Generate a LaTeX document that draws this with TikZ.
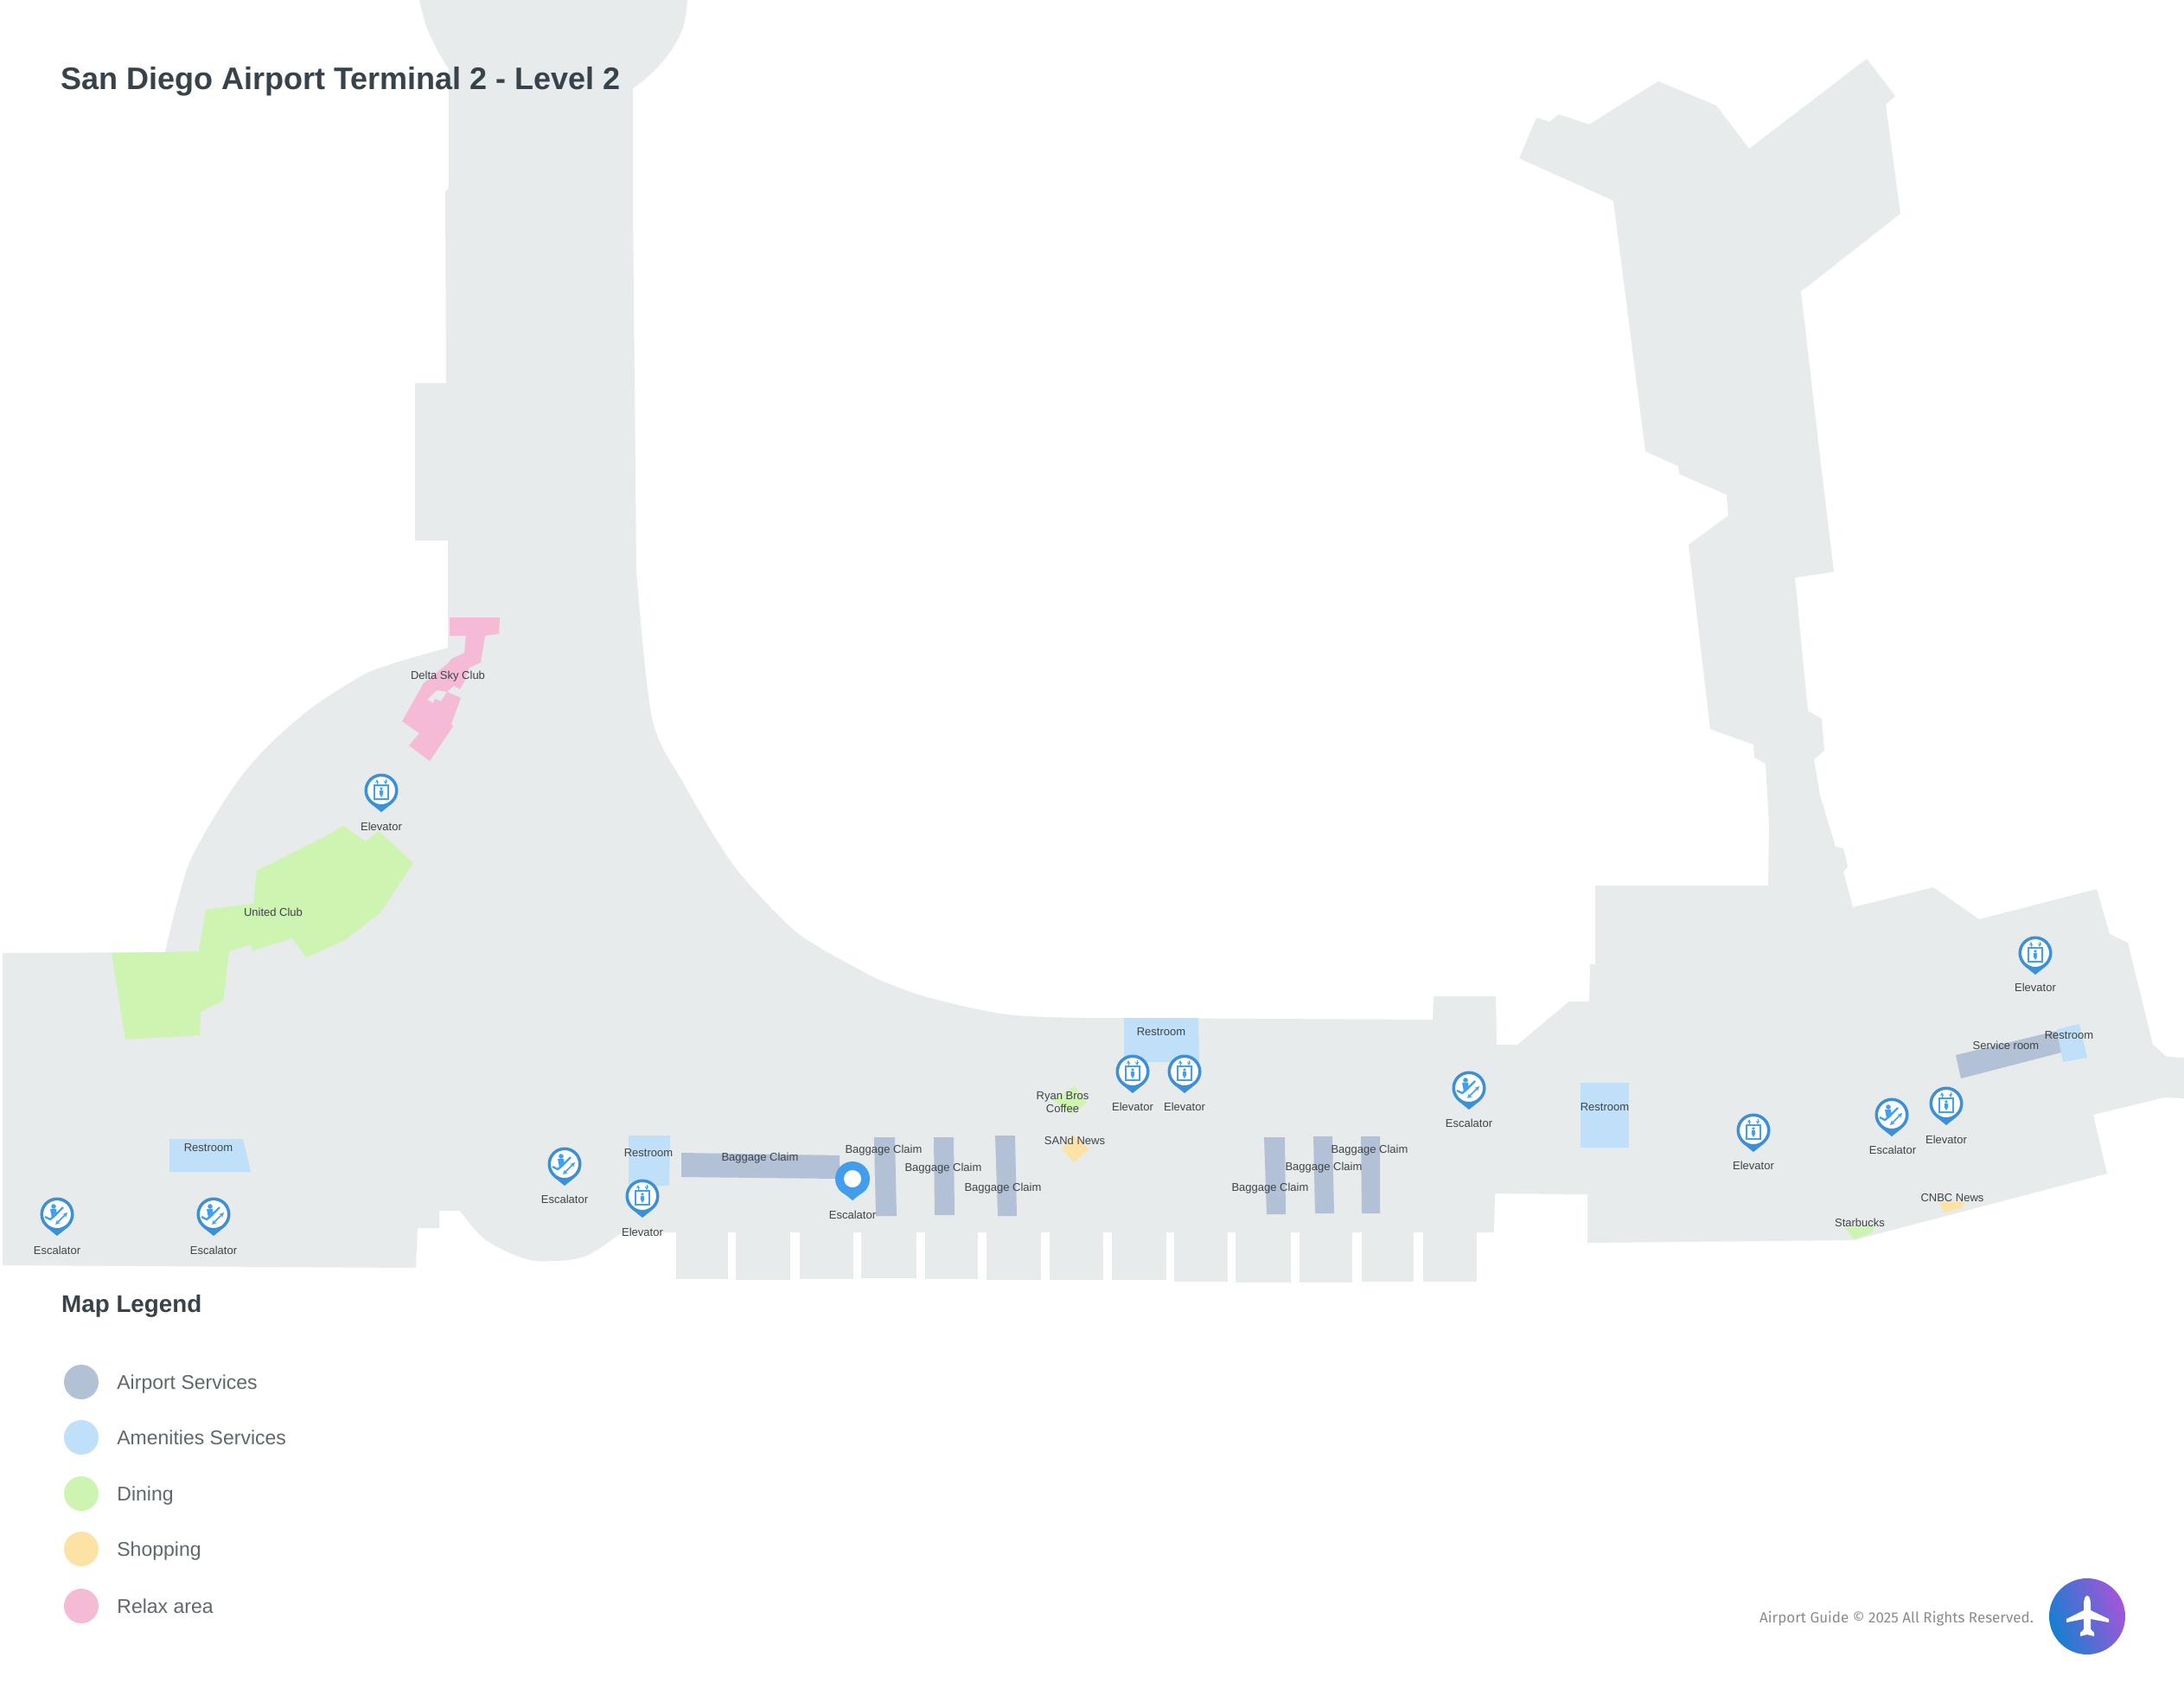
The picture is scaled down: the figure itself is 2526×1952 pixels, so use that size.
\documentclass[tikz,border=0pt]{standalone}
\usepackage{fontspec}
\setmainfont{Liberation Sans}
\newfontfamily\footfont{Fira Sans}
\usetikzlibrary{positioning}
\definecolor{floorgrey}{HTML}{E7EBEB}
\definecolor{servicecol}{HTML}{B3C1D6}
\definecolor{amenitycol}{HTML}{BFE0F8}
\definecolor{diningcol}{HTML}{CDF4B0}
\definecolor{shopcol}{HTML}{FDE2A6}
\definecolor{relaxcol}{HTML}{F4BAD6}
\definecolor{pinblue}{HTML}{3D8FD6}
\definecolor{iconblue}{HTML}{42A0EE}
\definecolor{labelgrey}{HTML}{3E4447}
\definecolor{titlegrey}{HTML}{37424A}
\definecolor{legendgrey}{HTML}{5F686C}
\definecolor{logoblue}{HTML}{1580D0}
\definecolor{logopurple}{HTML}{A555D8}
\tikzset{
  maplabel/.style={text=labelgrey, inner sep=0pt, align=center, yshift=-1pt, font=\fontsize{13}{15}\selectfont},
  legenddot/.style={circle, inner sep=0pt, minimum size=40pt},
  legendtext/.style={text=legendgrey, inner sep=0pt, text height=17pt, text depth=0pt, font=\fontsize{23}{26}\selectfont},
  pinbase/.pic={
    \fill[pinblue] (-12.2,15.2) -- (0,25) -- (12.2,15.2) -- cycle;
    \draw[pinblue, line width=3.5pt, fill=white] (0,0) circle[radius=17.75pt];
  },
  elevatorpin/.pic={
    \pic {pinbase};
    \draw[iconblue, line width=1.4pt] (-8,-6) rectangle (8,10);
    \fill[iconblue] (0,-2) circle[radius=1.9pt];
    \fill[iconblue] (-2.2,0) rectangle (2.2,4) (-2.2,4) -- (2.2,4) -- (0,8) -- cycle;
    \draw[iconblue, line width=1pt, ->, >=stealth] (-5,-7) -- (-5,-13);
    \draw[iconblue, line width=1pt, ->, >=stealth] (5,-13) -- (5,-7);
  },
  escalatorpin/.pic={
    \pic {pinbase};
    \fill[iconblue] (-4,-9) circle[radius=2.8pt];
    \fill[iconblue] (-8,-6) -- (-1,-6) -- (0,1) -- (-6,4) -- cycle;
    \draw[iconblue, line width=2.4pt] (-14,3) -- (-8,6) -- (-3,2) -- (7,-8);
    \draw[iconblue, line width=1.5pt, <->, >=stealth] (-2,12) -- (12,-2);
  },
  activepin/.pic={
    \fill[iconblue!90!pinblue] (0,0) circle[radius=20pt];
    \fill[iconblue!90!pinblue] (-16,12) -- (0,25) -- (16,12) -- cycle;
    \fill[white] (0,0) circle[radius=10pt];
  }
}
\begin{document}
\begin{tikzpicture}[x=1pt, y=-1pt]
\useasboundingbox (0,0) rectangle (2526,1952);
\fill[white] (0,0) rectangle (2526,1952);
\fill[floorgrey] plot[smooth, tension=0.6] coordinates {(795,0) (790,32) (773,63) (750,88) (732,102)} -- (732,240) -- plot[smooth, tension=0.5] coordinates {(736,660) (754,830) (790,905) (848,1000) (912,1070) (950,1097) (992,1120) (1015,1132) (1072,1153) (1164,1173) (1256,1177)} -- (1657,1179) -- (1658,1152) -- (1730,1152) -- (1731,1208) -- (1755,1208) -- (1815,1158) -- (1838,1158) -- (1839,1115) -- (1845,1115) -- (1845,1024) -- (2045,1024) -- (2046,953) -- (2042,883) -- (2029,876) -- (2028,861) -- (1978,843) -- (1953,630) -- (1999,596) -- (1997,572) -- (1942,548) -- (1941,539) -- (1903,522) -- (1866,232) -- (1757,183) -- (1777,136) -- (1792,141) -- (1803,132) -- (1838,144) -- (1918,94) -- (1985,122) -- (2023,172) -- (2159,68) -- (2192,111) -- (2181,121) -- (2198,247) -- (2083,337) -- (2104,520) -- (2121,661) -- (2076,668) -- (2091,822) -- (2107,831) -- (2110,868) -- (2098,878) -- (2105,920) -- (2123,979) -- (2132,981) -- (2137,1002) -- (2132,1008) -- (2143,1049) -- (2236,1026) -- (2289,1063) -- (2425,1028) -- (2440,1080) -- (2461,1090) -- (2490,1208) -- (2506,1222) -- (2526,1223) -- (2526,1270) -- (2503,1269) -- (2421,1289) -- (2437,1357) -- (2144,1434) -- (1836,1437) -- (1836,1381) -- (1729,1380) -- (1728,1425) -- (782,1425) -- (720,1425) -- plot[smooth, tension=0.6] coordinates {(708,1433) (676,1453) (638,1458) (606,1455) (561,1433) (532,1400)} -- (508,1400) -- (508,1420) -- (483,1420) -- (481,1466) -- (3,1463) -- (3,1102) -- plot[smooth, tension=0.6] coordinates {(191,1101) (206,1040) (226,983) (282,894) (346,830) (412,785) (452,768) (518,749)} -- (518,625) -- (480,625) -- (480,443) -- (516,443) -- (515,222) -- (519,217) -- plot[smooth, tension=0.6] coordinates {(519,80) (507,60) (493,30) (485,0)} -- cycle;
\foreach \a/\b/\c in {782/842/1479, 851/914/1480, 925/987/1479, 996/1060/1478, 1070/1131/1479, 1141/1204/1480, 1214/1276/1480, 1286/1349/1480, 1358/1420/1482, 1429/1493/1483, 1503/1564/1483, 1575/1635/1482, 1646/1708/1482}
  \fill[floorgrey] (\a,1420) rectangle (\b,\c);

\fill[diningcol] (297,1007) -- (380,965) -- (397,955) -- (423,973) -- (438,961) -- (478,998) -- (440,1055) -- (399,1087) -- (354,1107) -- (338,1085) -- (292,1099) -- (290,1092) -- (265,1100) -- (258,1157) -- (232,1170) -- (231,1197) -- (145,1202) -- (129,1102) -- (230,1100) -- (238,1052) -- (293,1045) -- cycle;
\fill[relaxcol] (520,714) -- (578,714) -- (577,733) -- (561,735) -- (556,766) -- (543,772) -- (537,788) -- (532,797) -- (525,793) -- (517,800) -- (505,798) -- (494,809) -- (501,813) -- (503,808) -- (510,811) -- (517,800) -- (533,807) -- (522,837) -- (524,840) -- (497,880) -- (473,862) -- (485,848) -- (465,834) -- (490,790) -- (518,767) -- (522,762) -- (537,755) -- (539,735) -- (520,735) -- cycle;

\fill[amenitycol] (196,1317) -- (281,1317) -- (290,1355) -- (196,1355) -- cycle;
\fill[amenitycol] (727,1313) -- (775,1313) -- (774,1371) -- (727,1371) -- cycle;
\fill[amenitycol] (1300,1177) -- (1386,1177) -- (1387,1228) -- (1300,1228) -- cycle;
\fill[amenitycol] (1828,1252) -- (1884,1252) -- (1884,1327) -- (1828,1327) -- cycle;
\fill[servicecol] (788,1333) -- (971,1336) -- (971,1363) -- (788,1361) -- cycle;
\fill[servicecol] (1011,1315) -- (1035,1315) -- (1037,1406) -- (1013,1406) -- cycle;
\fill[servicecol] (1080,1315) -- (1103,1315) -- (1104,1405) -- (1081,1405) -- cycle;
\fill[servicecol] (1151,1313) -- (1174,1313) -- (1176,1406) -- (1154,1406) -- cycle;
\fill[servicecol] (1462,1315) -- (1486,1315) -- (1487,1404) -- (1465,1404) -- cycle;
\fill[servicecol] (1519,1314) -- (1541,1314) -- (1543,1403) -- (1521,1403) -- cycle;
\fill[servicecol] (1574,1314) -- (1596,1314) -- (1596,1403) -- (1575,1403) -- cycle;
\fill[servicecol] (2262,1220) -- (2379,1192) -- (2384,1217) -- (2268,1247) -- cycle;
\fill[amenitycol] (2379,1190) -- (2405,1184) -- (2414,1223) -- (2386,1228) -- cycle;
\fill[diningcol] (1243,1256) -- (1257,1275) -- (1240,1288) -- (1217,1272) -- cycle;
\fill[shopcol] (1228,1328) -- (1242,1313) -- (1260,1328) -- (1242,1344) -- cycle;
\fill[shopcol] (2243,1390) -- (2273,1390) -- (2268,1397) -- (2249,1402) -- cycle;
\fill[diningcol] (2133,1419) -- (2168,1418) -- (2165,1425) -- (2145,1433) -- cycle;

\pic at (441,914) {elevatorpin};
\pic at (743,1383) {elevatorpin};
\pic at (1310,1239) {elevatorpin};
\pic at (1370,1239) {elevatorpin};
\pic at (2028,1307) {elevatorpin};
\pic at (2251,1276) {elevatorpin};
\pic at (2354,1102) {elevatorpin};
\pic at (66,1404) {escalatorpin};
\pic at (247,1404) {escalatorpin};
\pic at (653,1346) {escalatorpin};
\pic at (1699,1258) {escalatorpin};
\pic at (2188,1289) {escalatorpin};
\pic at (986,1363) {activepin};

\node[maplabel] (deltaclub) at (518,781) {Delta Sky Club};
\node[maplabel] (unitedclub) at (316,1054) {United Club};
\node[maplabel] (liftclub) at (441,955) {Elevator};
\node[maplabel] (escwestA) at (66,1445) {Escalator};
\node[maplabel] (escwestB) at (247,1445) {Escalator};
\node[maplabel] (restwest) at (241,1326) {Restroom};
\node[maplabel] (escmid) at (653,1386) {Escalator};
\node[maplabel] (restmid) at (750,1332) {Restroom};
\node[maplabel] (liftmid) at (743,1424) {Elevator};
\node[maplabel] (bagA) at (879,1338) {Baggage Claim};
\node[maplabel] (escactive) at (986,1404) {Escalator};
\node[maplabel] (bagB) at (1022,1329) {Baggage Claim};
\node[maplabel] (bagC) at (1091,1350) {Baggage Claim};
\node[maplabel] (bagD) at (1160,1373) {Baggage Claim};
\node[maplabel] (ryanbros) at (1229,1274) {Ryan Bros\\Coffee};
\node[maplabel] (sandnews) at (1243,1318) {SANd News};
\node[maplabel] (restnorth) at (1343,1192) {Restroom};
\node[maplabel] (liftnorthA) at (1310,1279) {Elevator};
\node[maplabel] (liftnorthB) at (1370,1279) {Elevator};
\node[maplabel] (bagE) at (1469,1373) {Baggage Claim};
\node[maplabel] (bagF) at (1531,1349) {Baggage Claim};
\node[maplabel] (bagG) at (1584,1329) {Baggage Claim};
\node[maplabel] (esceast) at (1699,1298) {Escalator};
\node[maplabel] (resteast) at (1856,1279) {Restroom};
\node[maplabel] (lifteastA) at (2028,1347) {Elevator};
\node[maplabel] (esceastB) at (2189,1329) {Escalator};
\node[maplabel] (lifteastB) at (2251,1317) {Elevator};
\node[maplabel] (lifteastC) at (2354,1141) {Elevator};
\node[maplabel] (servroom) at (2320,1208) {Service room};
\node[maplabel] (restfar) at (2393,1196) {Restroom};
\node[maplabel] (cnbcnews) at (2258,1384) {CNBC News};
\node[maplabel] (starbucks) at (2151,1413) {Starbucks};

\node[anchor=base west, inner sep=0pt, text=titlegrey, font=\fontsize{36}{40}\selectfont\bfseries] (maptitle) at (70,103) {San Diego Airport Terminal 2 - Level 2};
\node[anchor=base west, inner sep=0pt, text=titlegrey, font=\fontsize{27.8}{32}\selectfont\bfseries] (legendhead) at (71,1517) {Map Legend};

\node[legenddot, fill=servicecol] (dotservice) at (94,1598) {};
\node[legenddot, fill=amenitycol] (dotamenity) at (94,1662) {};
\node[legenddot, fill=diningcol] (dotdining) at (94,1727) {};
\node[legenddot, fill=shopcol] (dotshop) at (94,1791) {};
\node[legenddot, fill=relaxcol] (dotrelax) at (94,1857) {};
\node[legendtext, right=21pt of dotservice] {Airport Services};
\node[legendtext, right=21pt of dotamenity] {Amenities Services};
\node[legendtext, right=21pt of dotdining] {Dining};
\node[legendtext, right=21pt of dotshop] {Shopping};
\node[legendtext, right=21pt of dotrelax] {Relax area};

\node[anchor=base east, inner sep=0pt, text=black!45, font=\footfont\fontsize{17}{20}\selectfont] (footnote) at (2352,1876) {Airport Guide © 2025 All Rights Reserved.};
\shade[left color=logoblue, right color=logopurple, shading angle=110] (2414,1869) circle[radius=44pt];
\fill[white] (2414,1845) .. controls (2417,1845) and (2418,1851) .. (2418,1856) -- (2418,1862) -- (2439,1872) -- (2439,1876) -- (2418,1872) -- (2418,1884) -- (2422,1888) -- (2422,1892) -- (2414,1890) -- (2406,1892) -- (2406,1888) -- (2410,1884) -- (2410,1872) -- (2390,1876) -- (2390,1872) -- (2410,1862) -- (2410,1856) .. controls (2410,1851) and (2411,1845) .. (2414,1845) -- cycle;
\end{tikzpicture}
\end{document}
